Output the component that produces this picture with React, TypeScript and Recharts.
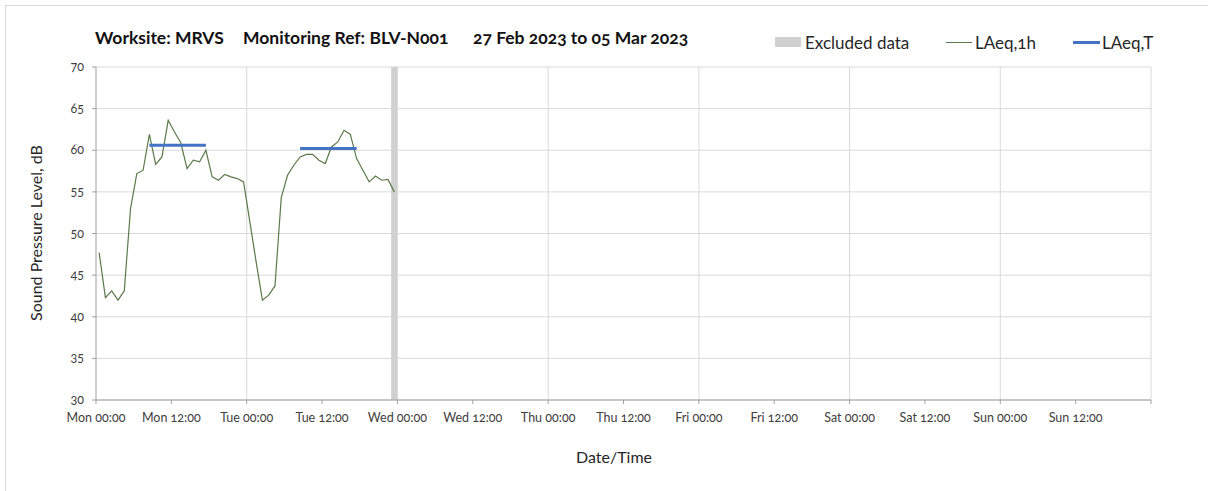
import {
  ComposedChart,
  Line,
  XAxis,
  YAxis,
  CartesianGrid,
  ReferenceArea,
  ReferenceLine,
} from 'recharts';

// hourly LAeq,1h values, Mon 00:00 onward (plotted at mid-hour)
const hourlyLevels = [
  47.7, 42.3, 43.1, 42.0, 43.1, 53.0, 57.2, 57.6, 61.9, 58.3, 59.2, 63.6,
  62.2, 60.9, 57.8, 58.8, 58.6, 60.0, 56.8, 56.4, 57.1, 56.8, 56.6, 56.2,
  51.4, 46.6, 42.0, 42.6, 43.7, 54.3, 57.0, 58.2, 59.2, 59.5, 59.5, 58.8,
  58.4, 60.4, 61.0, 62.4, 61.9, 59.0, 57.6, 56.2, 56.9, 56.4, 56.5, 55.0,
];

// LAeq,T periods: start hour, end hour, level
const periodStarts = [8.5, 32.5];
const periodEnds = [17.5, 41.5];
const periodLevels = [60.6, 60.2];

const excludedFrom = 47;
const excludedTo = 48;

const dayNames = ['Mon', 'Tue', 'Wed', 'Thu', 'Fri', 'Sat', 'Sun'];
const xTicks = [0, 12, 24, 36, 48, 60, 72, 84, 96, 108, 120, 132, 144, 156, 168];
const dayLines = [24, 48, 72, 96, 120, 144, 168];
const yTicks = [30, 35, 40, 45, 50, 55, 60, 65, 70];

const hourlyData = hourlyLevels.map((v, i) => ({ hour: i + 0.5, laeq1h: v }));
const periodData = periodStarts.flatMap((s, i) => [
  { hour: s, laeqT: periodLevels[i] },
  { hour: periodEnds[i], laeqT: periodLevels[i] },
  { hour: periodEnds[i] + 0.01, laeqT: null },
]);

const FONT = 'Lato, "Open Sans", sans-serif';
const GRID = '#d9d9d9';
const AXIS = '#a0a0a0';
const GREEN = '#5a7a4a';
const BLUE = '#4472c4';

function tickLabel(h: number) {
  if (h >= 168) return '';
  const day = dayNames[Math.floor(h / 24)];
  return `${day} ${h % 24 === 0 ? '00:00' : '12:00'}`;
}

function XTick(props: any) {
  const { x, y, payload } = props;
  return (
    <text
      x={x}
      y={y}
      dy={16}
      textAnchor="middle"
      fontSize={12.5}
      fill="#404040"
      fontFamily={FONT}
      style={{ fontVariantNumeric: 'oldstyle-nums' }}
    >
      {tickLabel(payload.value)}
    </text>
  );
}

function YTick(props: any) {
  const { x, y, payload } = props;
  return (
    <text
      x={x}
      y={y}
      dx={-6}
      dy={4}
      textAnchor="end"
      fontSize={12.5}
      fill="#404040"
      fontFamily={FONT}
      style={{ fontVariantNumeric: 'oldstyle-nums' }}
    >
      {payload.value}
    </text>
  );
}

const abs = (left: number, top: number): React.CSSProperties => ({
  position: 'absolute',
  left,
  top,
  transform: 'translateY(-50%)',
  whiteSpace: 'nowrap',
  fontFamily: FONT,
  lineHeight: 1,
  fontVariantNumeric: 'oldstyle-nums',
});

const titleStyle = (left: number): React.CSSProperties => ({
  ...abs(left, 38),
  fontWeight: 700,
  fontSize: 17.5,
  color: '#111',
});

export default function App() {
  return (
    <div
      style={{
        position: 'absolute',
        left: 0,
        top: 0,
        width: 1208,
        height: 491,
        overflow: 'hidden',
        background: '#fff',
      }}
    >
      <div
        style={{
          position: 'absolute',
          left: 5,
          top: 5,
          width: 1240,
          height: 520,
          border: '1px solid #d9d9d9',
        }}
      />
      <ComposedChart
        width={1208}
        height={491}
        data={hourlyData}
        margin={{ top: 67, right: 57, bottom: 61, left: 46 }}
        style={{ position: 'absolute', left: 0, top: 0 }}
      >
        <CartesianGrid vertical={false} stroke={GRID} />
        {dayLines.map((d) => (
          <ReferenceLine key={d} x={d} stroke={GRID} />
        ))}
        <ReferenceArea
          x1={excludedFrom}
          x2={excludedTo}
          y1={30}
          y2={70}
          fill="#d0d0d0"
          fillOpacity={1}
          stroke="none"
        />
        <XAxis
          type="number"
          dataKey="hour"
          domain={[0, 168]}
          ticks={xTicks}
          interval={0}
          height={30}
          stroke={AXIS}
          tickSize={4}
          tick={<XTick />}
          allowDataOverflow
        />
        <YAxis
          type="number"
          domain={[30, 70]}
          ticks={yTicks}
          interval={0}
          width={50}
          stroke={AXIS}
          tickSize={4}
          tick={<YTick />}
        />
        <Line
          type="linear"
          dataKey="laeq1h"
          stroke={GREEN}
          strokeWidth={1.2}
          dot={false}
          isAnimationActive={false}
        />
        <Line
          data={periodData}
          type="linear"
          dataKey="laeqT"
          stroke={BLUE}
          strokeWidth={3}
          dot={false}
          connectNulls={false}
          isAnimationActive={false}
        />
      </ComposedChart>

      <div style={titleStyle(95)}>Worksite: MRVS</div>
      <div style={titleStyle(243)}>Monitoring Ref: BLV-N001</div>
      <div style={titleStyle(473)}>27 Feb 2023 to 05 Mar 2023</div>

      <div
        style={{
          position: 'absolute',
          left: 775,
          top: 37,
          width: 26,
          height: 10,
          background: '#d0d0d0',
        }}
      />
      <div style={{ ...abs(805, 42), fontSize: 17, color: '#262626' }}>Excluded data</div>
      <div
        style={{
          position: 'absolute',
          left: 946,
          top: 41.5,
          width: 26,
          height: 1.2,
          background: GREEN,
        }}
      />
      <div style={{ ...abs(975, 42), fontSize: 17, color: '#262626' }}>LAeq,1h</div>
      <div
        style={{
          position: 'absolute',
          left: 1073,
          top: 40.5,
          width: 27,
          height: 3,
          background: BLUE,
        }}
      />
      <div style={{ ...abs(1102, 42), fontSize: 17, color: '#262626' }}>LAeq,T</div>

      <div
        style={{
          ...abs(36, 233),
          transform: 'translate(-50%, -50%) rotate(-90deg)',
          fontSize: 16,
          color: '#262626',
        }}
      >
        Sound Pressure Level, dB
      </div>
      <div
        style={{
          ...abs(614, 457),
          transform: 'translate(-50%, -50%)',
          fontSize: 16,
          color: '#262626',
        }}
      >
        Date/Time
      </div>
    </div>
  );
}
